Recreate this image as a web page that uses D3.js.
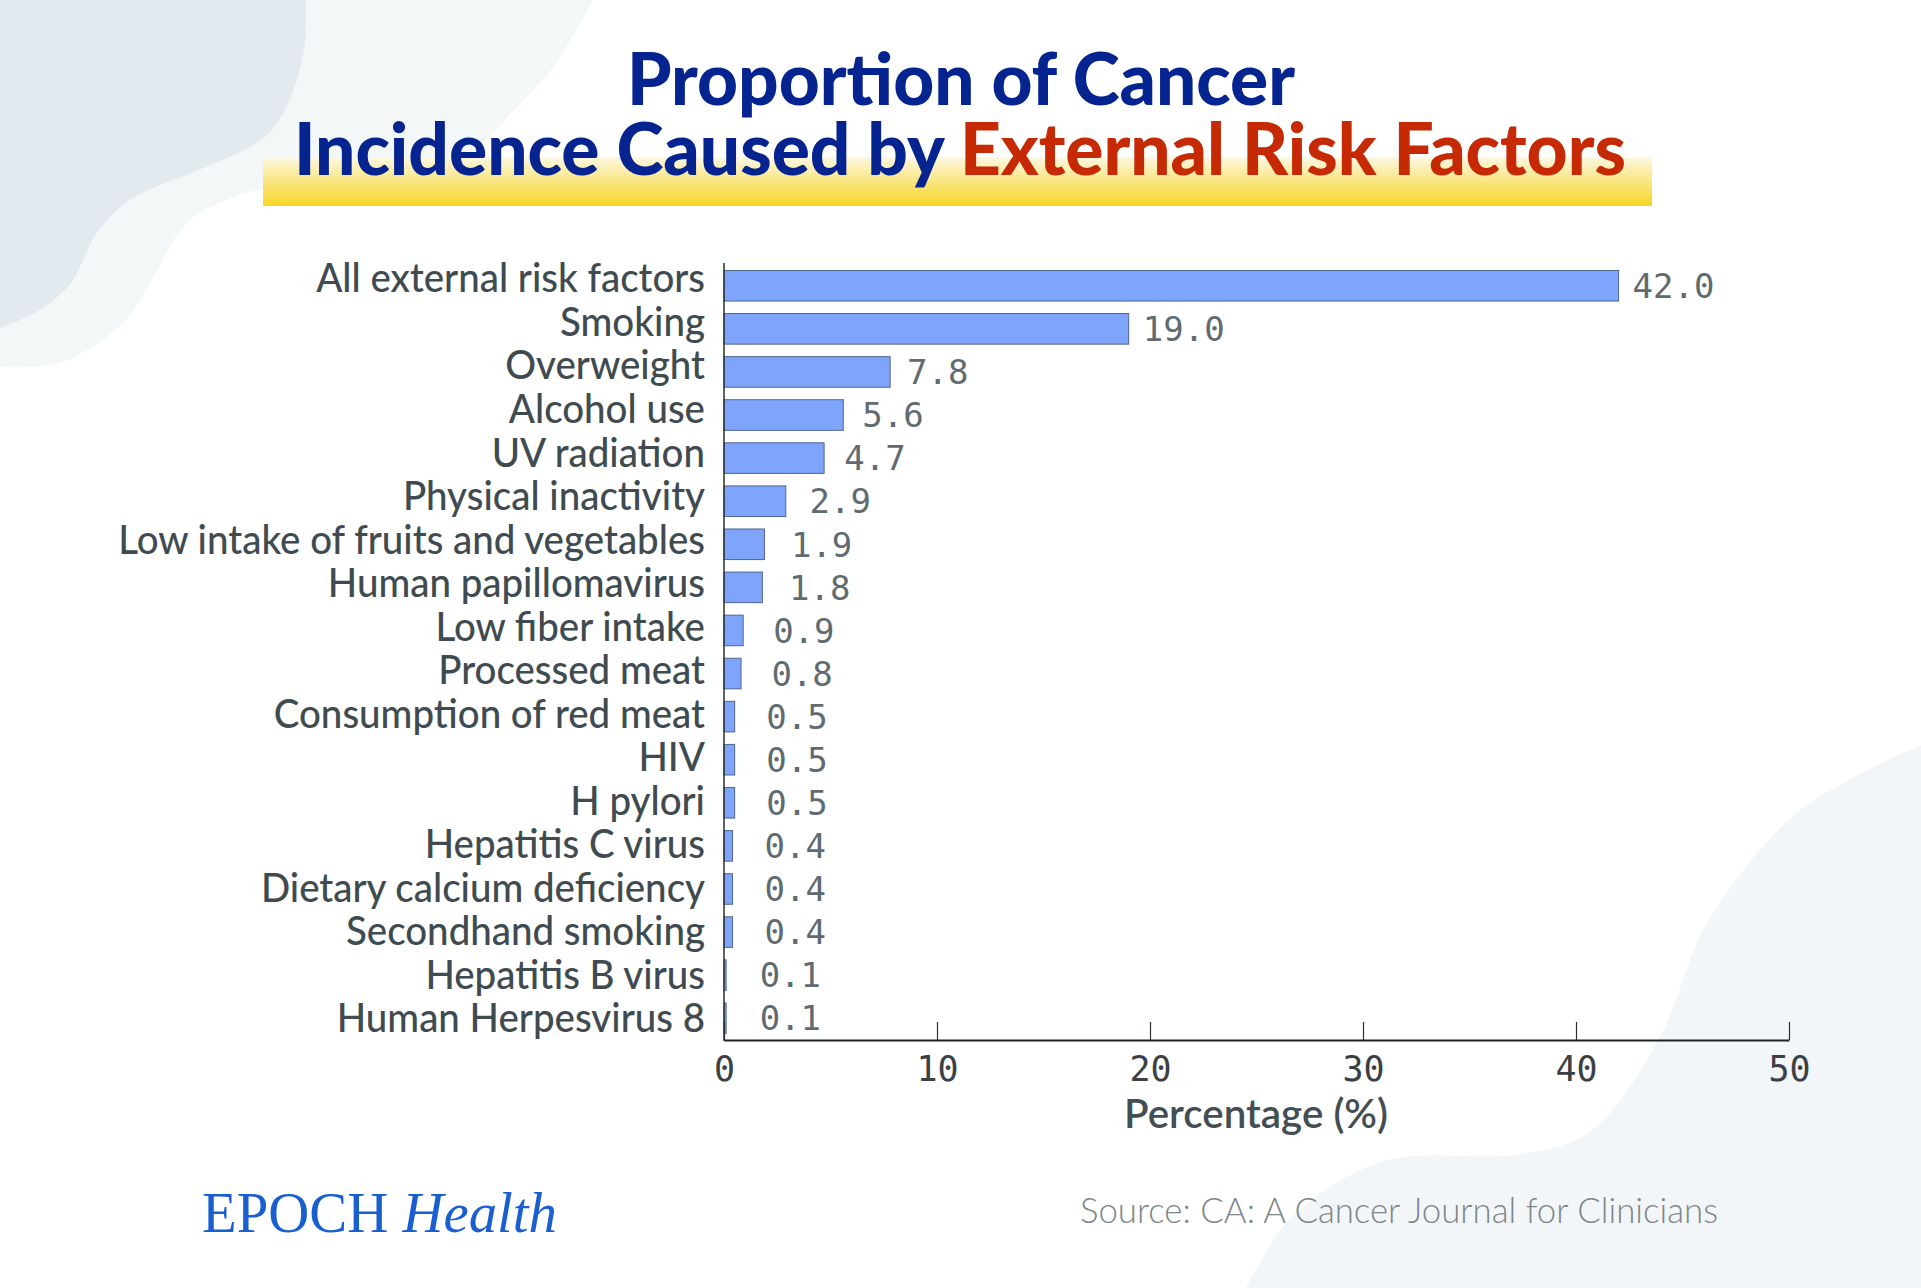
<!DOCTYPE html>
<html>
<head>
<meta charset="utf-8">
<script src="https://cdn.jsdelivr.net/npm/d3@7"></script>
<style>
  html, body { margin: 0; padding: 0; background: #ffffff; }
  svg { display: block; }
</style>
</head>
<body>
<svg id="chart" width="1921" height="1288"></svg>
<script>
// ---------------- DATA ----------------
const categories = [
  "All external risk factors",
  "Smoking",
  "Overweight",
  "Alcohol use",
  "UV radiation",
  "Physical inactivity",
  "Low intake of fruits and vegetables",
  "Human papillomavirus",
  "Low fiber intake",
  "Processed meat",
  "Consumption of red meat",
  "HIV",
  "H pylori",
  "Hepatitis C virus",
  "Dietary calcium deficiency",
  "Secondhand smoking",
  "Hepatitis B virus",
  "Human Herpesvirus 8"
];
const values = [42.0, 19.0, 7.8, 5.6, 4.7, 2.9, 1.9, 1.8, 0.9, 0.8, 0.5, 0.5, 0.5, 0.4, 0.4, 0.4, 0.1, 0.1];
const xTicks = [0, 10, 20, 30, 40, 50];
const titleLine1 = "Proportion of Cancer";
const titleLine2a = "Incidence Caused by ";
const titleLine2b = "External Risk Factors";
const xAxisTitle = "Percentage (%)";
const sourceText = "Source: CA: A Cancer Journal for Clinicians";

// ---------------- SETUP ----------------
const W = 1921, H = 1288;
const svg = d3.select("#chart");
svg.append("rect").attr("width", W).attr("height", H).attr("fill", "#ffffff");

// decorative background blobs
const blob = d3.line().curve(d3.curveCatmullRom.alpha(0.5));
const lightTL = [[593,0],[553,67],[514,110],[470,150],[330,180],[257,190],[190,220],[150,283],[119,327],[59,363],[0,367]];
svg.append("path").attr("d", "M0,0 L" + blob(lightTL).slice(1) + " Z").attr("fill", "#f4f7f8");
const darkTL = [[306,0],[304,50],[285,110],[261,140],[206,167],[130,200],[97,233],[71,283],[40,310],[0,328]];
svg.append("path").attr("d", "M0,0 L" + blob(darkTL).slice(1) + " Z").attr("fill", "#e3eaef");
const lightBR = [[1921,745],[1798,812],[1706,925],[1660,1037],[1591,1131],[1522,1154],[1384,1161],[1292,1217],[1246,1288]];
svg.append("path").attr("d", "M1921,1288 L" + blob(lightBR).slice(1) + " Z").attr("fill", "#f3f6f8");

// yellow highlight behind title line 2
const defs = svg.append("defs");
const grad = defs.append("linearGradient").attr("id", "yel").attr("x1", 0).attr("x2", 0).attr("y1", 0).attr("y2", 1);
grad.append("stop").attr("offset", "0%").attr("stop-color", "#fdf8e2");
grad.append("stop").attr("offset", "45%").attr("stop-color", "#fae78a");
grad.append("stop").attr("offset", "100%").attr("stop-color", "#f9d625");
svg.append("rect").attr("x", 263).attr("y", 157).attr("width", 1389).attr("height", 49).attr("fill", "url(#yel)");

// title
const titleFont = "Lato, 'Noto Sans', sans-serif";
svg.append("text")
  .attr("x", 961).attr("y", 105)
  .attr("text-anchor", "middle")
  .attr("font-family", titleFont).attr("font-weight", 900).attr("font-size", 72)
  .attr("textLength", 668).attr("lengthAdjust", "spacingAndGlyphs")
  .attr("fill", "#062490")
  .text(titleLine1);
const t2 = svg.append("text")
  .attr("x", 960).attr("y", 175)
  .attr("text-anchor", "middle")
  .attr("font-family", titleFont).attr("font-weight", 900).attr("font-size", 72)
  .attr("textLength", 1332).attr("lengthAdjust", "spacingAndGlyphs");
t2.append("tspan").attr("fill", "#062490").text(titleLine2a);
t2.append("tspan").attr("fill", "#c62a05").text(titleLine2b);

// ---------------- SCALES ----------------
const x = d3.scaleLinear().domain([0, 50]).range([724, 1789]);
const y = d3.scaleBand().domain(categories).range([264, 1040]).paddingInner(0.29).paddingOuter(0.15);
const yLab = d3.scalePoint().domain(categories).range([278, 1018]);

// bars
svg.append("g").selectAll("rect")
  .data(categories.map((c, i) => ({c, v: values[i]})))
  .join("rect")
  .attr("x", x(0))
  .attr("y", d => y(d.c))
  .attr("width", d => x(d.v) - x(0))
  .attr("height", y.bandwidth())
  .attr("fill", "#7fa4fc")
  .attr("stroke", "#4f6690")
  .attr("stroke-width", 1);

// value labels
const monoFont = "'DejaVu Sans Mono', 'Liberation Mono', monospace";
svg.append("g").selectAll("text")
  .data(categories.map((c, i) => ({c, v: values[i]})))
  .join("text")
  .attr("x", d => x(d.v) + 14 + 20 * Math.exp(-d.v / 4))
  .attr("y", d => y(d.c) + y.bandwidth() / 2)
  .attr("dy", "0.36em")
  .attr("font-family", monoFont).attr("font-size", 34)
  .attr("fill", "#5f6b70")
  .text(d => d3.format(".1f")(d.v));

// category labels
const labFont = "Lato, 'Noto Sans', sans-serif";
const labG = svg.append("g");
const labs = labG.selectAll("g")
  .data(categories)
  .join("g")
  .attr("transform", d => `translate(705,${yLab(d)})`);
const labTexts = labs.append("text")
  .attr("text-anchor", "end")
  .attr("dy", "0.36em")
  .attr("font-family", labFont).attr("font-weight", 500).attr("font-size", 40)
  .attr("fill", "#404b50")
  .text(d => d);
let maxW = 0;
labTexts.each(function() { maxW = Math.max(maxW, this.getComputedTextLength()); });
const sx = 587 / maxW;
labTexts.attr("transform", `scale(${sx},1)`);

// axes
const xAxis = d3.axisBottom(x).tickValues(xTicks).tickSizeInner(-18).tickSizeOuter(0).tickPadding(16);
const gx = svg.append("g").attr("transform", "translate(0,1040)").call(xAxis);
gx.select(".domain").attr("stroke", "#1e2224").attr("stroke-width", 2);
gx.selectAll(".tick line").attr("stroke", "#2a2f31").attr("stroke-width", 1.2);
gx.selectAll(".tick text").attr("font-family", monoFont).attr("font-size", 35).attr("fill", "#3a4043");

svg.append("line")
  .attr("x1", x(0)).attr("x2", x(0))
  .attr("y1", 263).attr("y2", 1041)
  .attr("stroke", "#2a2f31").attr("stroke-width", 1.5);

// axis title
svg.append("text")
  .attr("x", 1256).attr("y", 1128)
  .attr("text-anchor", "middle")
  .attr("font-family", labFont).attr("font-weight", 600).attr("font-size", 40)
  .attr("textLength", 264).attr("lengthAdjust", "spacingAndGlyphs")
  .attr("fill", "#434e53")
  .text(xAxisTitle);

// footer
const brand = svg.append("text")
  .attr("x", 202).attr("y", 1232)
  .attr("font-family", "'Liberation Serif', 'DejaVu Serif', serif")
  .attr("font-size", 58)
  .attr("textLength", 355).attr("lengthAdjust", "spacingAndGlyphs")
  .attr("fill", "#1a5fd0");
brand.append("tspan").text("EPOCH ");
brand.append("tspan").attr("font-style", "italic").text("Health");

svg.append("text")
  .attr("x", 1080).attr("y", 1223)
  .attr("font-family", labFont).attr("font-weight", 300).attr("font-size", 36)
  .attr("textLength", 638).attr("lengthAdjust", "spacingAndGlyphs")
  .attr("fill", "#7c8689")
  .text(sourceText);
</script>
</body>
</html>
